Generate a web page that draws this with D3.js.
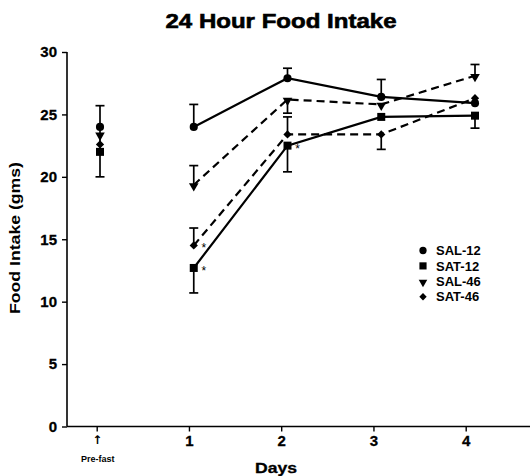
<!DOCTYPE html>
<html>
<head>
<meta charset="utf-8">
<script src="https://cdn.jsdelivr.net/npm/d3@7/dist/d3.min.js"></script>
<style>
  html, body { margin: 0; padding: 0; background: #fff; }
  svg { display: block; font-family: "Liberation Sans", Arial, Helvetica, sans-serif; }
</style>
</head>
<body>
<svg id="chart" width="530" height="476"></svg>
<script>
// ---- data ----
const dayIndex = [0, 1, 2, 3, 4];
const dayLabels = ["↑", "1", "2", "3", "4"];
const yTicks = [0, 5, 10, 15, 20, 25, 30];
const seriesNames = ["SAL-12", "SAT-12", "SAL-46", "SAT-46"];

const sal12 = [24.0, 24.0, 27.9, 26.4, 25.9];
const sat12 = [22.0, 12.7, 22.5, 24.8, 24.9];
const sal46 = [23.4, 19.35, 26.2, 25.8, 28.1];
const sat46 = [22.6, 14.5, 23.4, 23.4, 26.3];

// error bar end values (null = none drawn)
const sal12Err = [25.7, 25.8, 28.7, 27.8, null];
const sat12Err = [20.0, 10.7, 20.4, null, 23.9];
const sal46Err = [null, 20.9, 25.1, null, 29.0];
const sat46Err = [null, 15.9, 24.8, 22.2, null];

// significance markers: [series, day]
const starSeries = ["SAT-46", "SAT-12", "SAT-12"];
const starDays = [1, 1, 2];

// ---- setup ----
const svg = d3.select("#chart");
const W = 530, H = 476;

const y = d3.scaleLinear().domain([0, 30]).range([426.5, 52]);
const xData = d3.scaleLinear().domain([0, 4]).range([100, 475]);
const xAxisScale = d3.scaleLinear().domain([0, 4]).range([96.7, 465.7]);

const values = { "SAL-12": sal12, "SAT-12": sat12, "SAL-46": sal46, "SAT-46": sat46 };
const errs = { "SAL-12": sal12Err, "SAT-12": sat12Err, "SAL-46": sal46Err, "SAT-46": sat46Err };
const dashed = { "SAL-12": false, "SAT-12": false, "SAL-46": true, "SAT-46": true };
const symbols = {
  "SAL-12": { type: d3.symbolCircle, size: 52, rot: 0, dy: 0 },
  "SAT-12": { type: d3.symbolSquare, size: 64, rot: 0, dy: 0 },
  "SAL-46": { type: d3.symbolTriangle, size: 40, rot: 180, dy: 1 },
  "SAT-46": { type: d3.symbolSquare, size: 34, rot: 45, dy: 0 }
};

// ---- title ----
svg.append("text")
  .attr("x", 281).attr("y", 28)
  .attr("text-anchor", "middle")
  .attr("font-size", 20).attr("font-weight", "bold")
  .attr("stroke", "#000").attr("stroke-width", 0.6)
  .attr("textLength", 231).attr("lengthAdjust", "spacingAndGlyphs")
  .text("24 Hour Food Intake");

// ---- y axis ----
const yAxis = svg.append("g").attr("transform", "translate(67,0)")
  .call(d3.axisLeft(y).tickValues(yTicks).tickSize(5).tickPadding(5).tickFormat(d3.format("d")));
yAxis.select(".domain").attr("stroke", "#000").attr("stroke-width", 1.6)
  .attr("d", `M0,${y(30)}V${y(0)}`);
yAxis.selectAll(".tick line").attr("stroke", "#000").attr("stroke-width", 1.4);
yAxis.selectAll(".tick text").attr("font-size", 15).attr("font-weight", "bold")
  .attr("stroke", "#000").attr("stroke-width", 0.3)
  .attr("fill", "#000").attr("font-family", "Liberation Sans, Arial, sans-serif");

svg.append("text")
  .attr("transform", "translate(20,238) rotate(-90)")
  .attr("text-anchor", "middle")
  .attr("font-size", 14).attr("font-weight", "bold")
  .attr("textLength", 152).attr("lengthAdjust", "spacingAndGlyphs")
  .text("Food Intake (gms)");

// ---- x axis ----
const xAxis = svg.append("g").attr("transform", `translate(0,${y(0)})`)
  .call(d3.axisBottom(xAxisScale).tickValues(dayIndex).tickSize(5).tickPadding(4)
    .tickFormat((d, i) => dayLabels[i]));
xAxis.select(".domain").attr("stroke", "#000").attr("stroke-width", 1.6)
  .attr("d", `M${67},0H${W}`);
xAxis.selectAll(".tick line").attr("stroke", "#000").attr("stroke-width", 1.4);
xAxis.selectAll(".tick text").attr("font-size", 15).attr("font-weight", "bold")
  .attr("stroke", "#000").attr("stroke-width", 0.3)
  .attr("fill", "#000").attr("font-family", "Liberation Sans, Arial, sans-serif");
xAxis.selectAll(".tick text").filter((d, i) => i === 0)
  .attr("font-size", 12).attr("stroke", null).attr("font-family", "DejaVu Sans, sans-serif");

svg.append("text")
  .attr("x", xAxisScale(0) + 1).attr("y", 462)
  .attr("text-anchor", "middle")
  .attr("font-size", 9).attr("font-weight", "bold")
  .text("Pre-fast");

svg.append("text")
  .attr("x", 276).attr("y", 473)
  .attr("text-anchor", "middle")
  .attr("font-size", 14).attr("font-weight", "bold")
  .attr("stroke", "#000").attr("stroke-width", 0.3)
  .attr("textLength", 42).attr("lengthAdjust", "spacingAndGlyphs")
  .text("Days");

// ---- lines (days 1-4) ----
const line = d3.line().x(d => xData(d[0])).y(d => y(d[1]));
seriesNames.forEach(name => {
  const pts = dayIndex.filter(d => d >= 1).map(d => [d, values[name][d]]);
  svg.append("path")
    .attr("d", line(pts))
    .attr("fill", "none")
    .attr("stroke", "#000")
    .attr("stroke-width", 2.2)
    .attr("stroke-dasharray", dashed[name] ? "8,5" : null);
});

// ---- error bars ----
const capW = 9;
seriesNames.forEach(name => {
  dayIndex.forEach(d => {
    const e = errs[name][d];
    if (e === null) return;
    const cx = xData(d);
    const g = svg.append("g").attr("stroke", "#000").attr("stroke-width", 1.7);
    g.append("line").attr("x1", cx).attr("x2", cx)
      .attr("y1", y(values[name][d])).attr("y2", y(e));
    g.append("line").attr("x1", cx - capW / 2).attr("x2", cx + capW / 2)
      .attr("y1", y(e)).attr("y2", y(e));
  });
});
// connect pre-fast group bar through markers
svg.append("line")
  .attr("x1", xData(0)).attr("x2", xData(0))
  .attr("y1", y(sal12[0])).attr("y2", y(sat12[0]))
  .attr("stroke", "#000").attr("stroke-width", 1.7);

// ---- markers ----
seriesNames.forEach(name => {
  const s = symbols[name];
  const sym = d3.symbol().type(s.type).size(s.size);
  svg.append("g").selectAll("path")
    .data(dayIndex)
    .join("path")
    .attr("d", sym)
    .attr("fill", "#000")
    .attr("transform", d => `translate(${xData(d)},${y(values[name][d]) + s.dy}) rotate(${s.rot})`);
});

// ---- asterisks ----
starSeries.forEach((name, i) => {
  const d = starDays[i];
  svg.append("text")
    .attr("x", xData(d) + 10).attr("y", y(values[name][d]) + 7)
    .attr("font-size", 12)
    .attr("text-anchor", "middle")
    .text("*");
});

// ---- legend ----
const legend = svg.append("g");
seriesNames.forEach((name, i) => {
  const ly = 250.5 + i * 15.4;
  const s = symbols[name];
  legend.append("path")
    .attr("d", d3.symbol().type(s.type).size(s.size * 0.8))
    .attr("fill", "#000")
    .attr("transform", `translate(423,${ly + s.dy}) rotate(${s.rot})`);
  legend.append("text")
    .attr("x", 436).attr("y", ly)
    .attr("dy", "0.36em")
    .attr("font-size", 13).attr("font-weight", "bold")
    .text(name);
});
</script>
</body>
</html>
